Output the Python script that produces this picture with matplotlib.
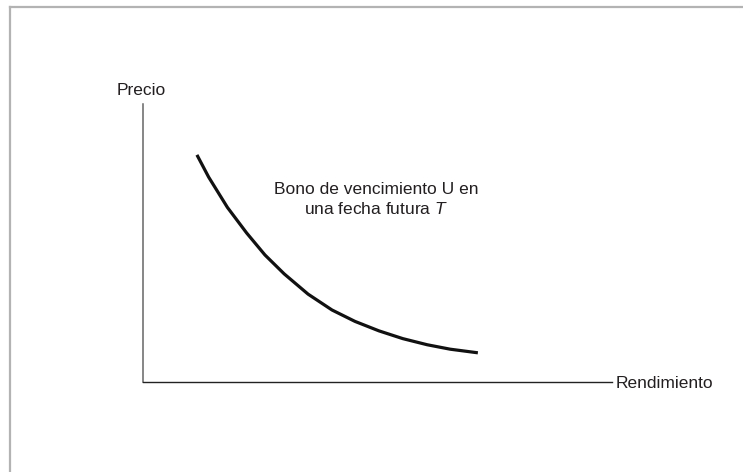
import matplotlib
matplotlib.use("Agg")
import matplotlib.pyplot as plt
from matplotlib.lines import Line2D

plt.rcParams['font.family'] = ['Liberation Sans', 'DejaVu Sans']
plt.rcParams['mathtext.fontset'] = 'custom'
plt.rcParams['mathtext.it'] = 'Liberation Sans:italic'
plt.rcParams['mathtext.rm'] = 'Liberation Sans'

# curve (arbitrary units)
yield_vals = [1.15, 1.40, 1.80, 2.21, 2.60, 3.01, 3.52, 4.03, 4.52, 5.03, 5.54, 6.06, 6.55, 7.14]
price_vals = [8.17, 7.37, 6.28, 5.36, 4.57, 3.89, 3.16, 2.59, 2.18, 1.84, 1.56, 1.34, 1.18, 1.05]

x_label = "Rendimiento"
y_label = "Precio"
curve_label = "Bono de vencimiento U en\nuna fecha futura $\\mathit{T}$"

W, H = 743, 472
fig = plt.figure(figsize=(W / 100, H / 100), dpi=100)
txt = '#231f20'

# frame (top and left only)
fig.add_artist(Line2D([10 / W, 10 / W], [0, 1 - 7 / H], color='#b3b3b3', lw=1.6, transform=fig.transFigure))
fig.add_artist(Line2D([10 / W, 1], [1 - 7 / H, 1 - 7 / H], color='#b3b3b3', lw=1.6, transform=fig.transFigure))

ax = fig.add_axes([143 / W, 90 / H, (612 - 143) / W, (382 - 104) / H])
ax.set_xlim(0, 10)
ax.set_ylim(0, 10)
ax.spines['top'].set_visible(False)
ax.spines['right'].set_visible(False)
ax.spines['left'].set_color('#666666')
ax.spines['left'].set_linewidth(1.1)
ax.spines['bottom'].set_color('#222222')
ax.spines['bottom'].set_linewidth(1.0)
ax.set_xticks([])
ax.set_yticks([])
ax.patch.set_alpha(0)

ax.plot(yield_vals, price_vals, color='#111111', lw=2.3,
        solid_capstyle='butt', solid_joinstyle='round')

ax.annotate(y_label, xy=(0, 1), xycoords='axes fraction', xytext=(-1.5, 9),
            textcoords='offset pixels', ha='center', va='baseline', fontsize=12.5, color=txt)
ax.annotate(x_label, xy=(1, 0), xycoords='axes fraction', xytext=(4, -6),
            textcoords='offset pixels', ha='left', va='baseline', fontsize=12.5, color=txt)
ax.text(4.97, 6.55, curve_label, ha='center', va='center', fontsize=12.5,
        color=txt, linespacing=1.3)

fig.savefig("out.png", dpi=100)
